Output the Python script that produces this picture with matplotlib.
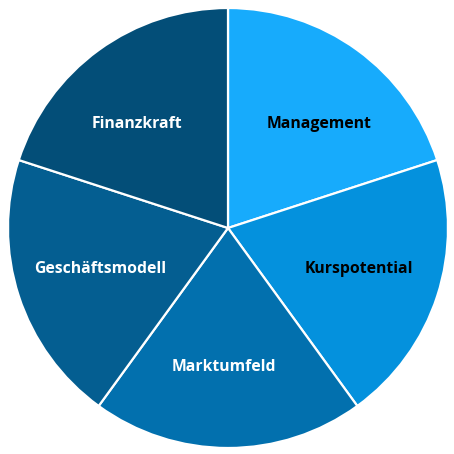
import matplotlib.pyplot as plt

# Slices, clockwise from 12 o'clock
labels = ["Management", "Kurspotential", "Marktumfeld", "Geschäftsmodell", "Finanzkraft"]
values = [1, 1, 1, 1, 1]
colors = ["#17abfc", "#0491dd", "#0270ae", "#045e91", "#034e78"]
text_colors = ["black", "black", "white", "white", "white"]
# small hand nudges of the label positions (axes units)
nudges = [(0.045, -0.035), (-0.005, 0.01), (-0.02, 0.0), (0.02, 0.01), (-0.045, -0.035)]

fig = plt.figure(figsize=(4.54, 4.54), dpi=100)
ax = fig.add_axes([0, 0, 1, 1])

wedges, texts = ax.pie(values, labels=labels, colors=colors, startangle=90,
                       counterclock=False, labeldistance=0.63,
                       wedgeprops=dict(edgecolor="white", linewidth=1.6),
                       textprops=dict(fontsize=11.3, fontweight="bold", family="Open Sans"))
for t, c, (dx, dy) in zip(texts, text_colors, nudges):
    t.set_color(c)
    t.set_horizontalalignment("center")
    t.set_verticalalignment("center")
    x, y = t.get_position()
    t.set_position((x + dx, y + dy))

ax.set_xlim(-228 / 220, 226 / 220)
ax.set_ylim(-226 / 220, 228 / 220)
ax.set_aspect("equal")
ax.axis("off")

fig.savefig("out.png", dpi=100)
